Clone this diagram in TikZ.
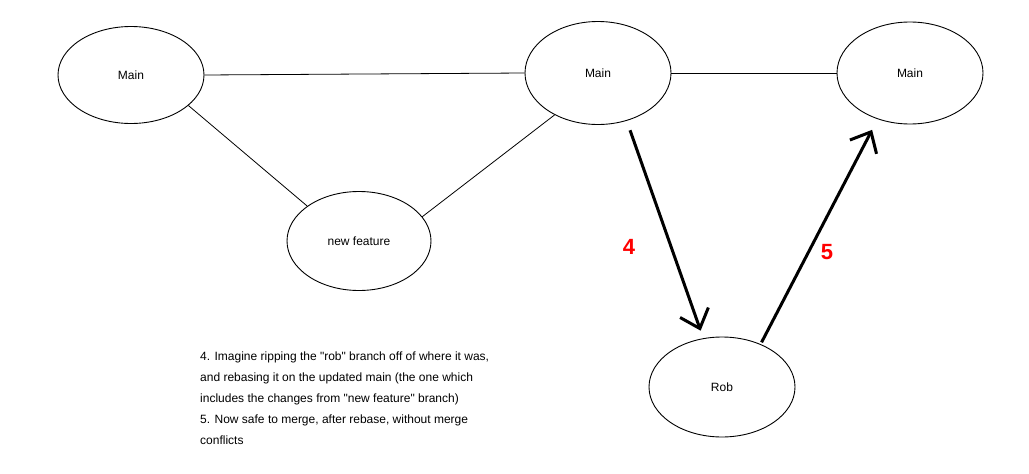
\documentclass[tikz,border=0pt]{standalone}
\usepackage{fontspec}
\setmainfont{Liberation Sans}
\newfontfamily\notefont{Liberation Sans}
\usetikzlibrary{shapes.geometric,arrows.meta}
\tikzset{
  commit/.style={draw=black, line width=0.9pt, ellipse, inner sep=0pt,
    minimum width=146pt, minimum height=101pt, font=\fontsize{12}{14}\selectfont},
  link/.style={draw=black, line width=0.8pt},
  bigarrow/.style={draw=black, line width=3pt,
    -{Straight Barb[length=17pt,width=30pt,line width=3pt]}},
  steplabel/.style={text=red, font=\fontsize{22}{24}\selectfont\bfseries, inner sep=0pt},
  note/.style={anchor=base west, align=left, inner sep=0pt,
    font=\notefont\fontsize{12}{21}\selectfont}
}
\begin{document}
\begin{tikzpicture}[x=1pt,y=-1pt]
\useasboundingbox[fill=white] (0,0) rectangle (1029,474);
\node[commit, minimum height=97pt] (m1) at (131,75) {Main};
\node[commit, minimum height=103pt] (m2) at (598,73) {Main};
\node[commit, minimum height=102pt] (m3) at (910,73) {Main};
\node[commit, minimum width=144pt, minimum height=99pt] (nf) at (359,241) {new feature};
\node[commit, minimum height=100pt] (rob) at (722,387) {Rob};

\draw[link] (m1.east) -- (m2.west);
\draw[link] (m2.east) -- (m3.west);
\draw[link] (m1.-28) -- (nf.146);
\draw[link] (m2.-136) -- (nf.21);

\draw[bigarrow, shorten <=10pt, shorten >=8pt] (m2.-59) -- (rob.111);
\draw[bigarrow, shorten <=2pt, shorten >=12pt] (rob.48) -- (m3.-125);

\node[steplabel] (l4) at (629,247) {4};
\node[steplabel] (l5) at (827,252) {5};

\node[note] (n4) at (200,402) {4. Imagine ripping the "rob" branch off of where it was,\\
and rebasing it on the updated main (the one which\\
includes the changes from "new feature" branch)};
\node[note] (n5) at (200,444) {5. Now safe to merge, after rebase, without merge\\
conflicts};
\end{tikzpicture}
\end{document}
